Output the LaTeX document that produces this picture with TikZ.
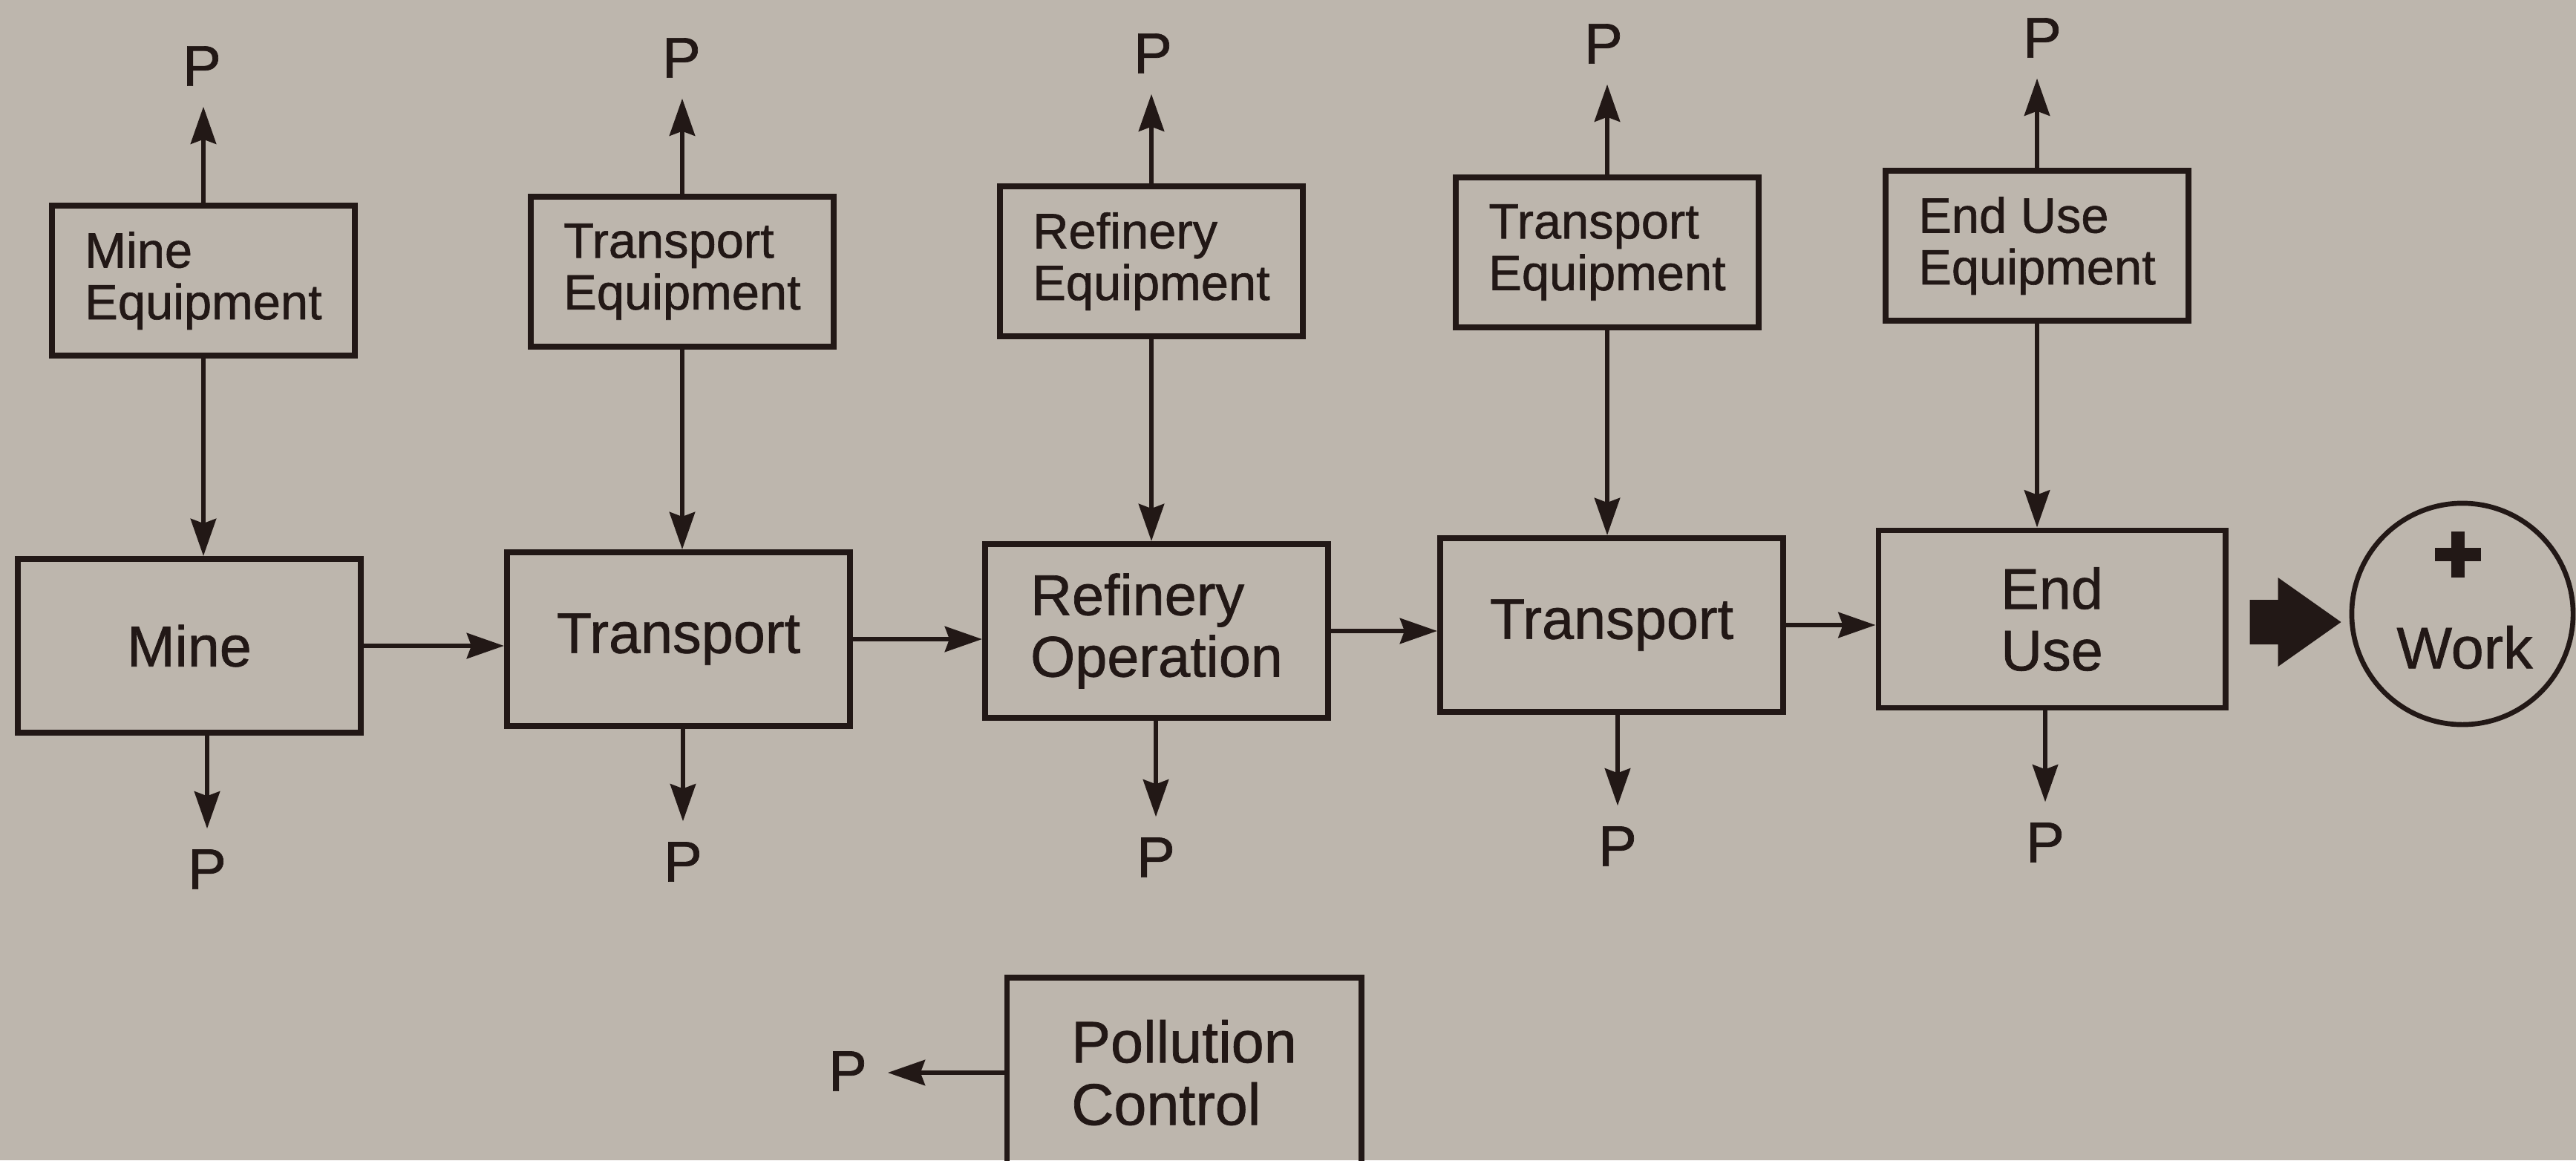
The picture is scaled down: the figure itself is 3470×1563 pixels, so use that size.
\documentclass[tikz,border=0pt]{standalone}
\usepackage{fontspec}
\setmainfont{Liberation Sans}[FakeBold=0.9]
\usetikzlibrary{arrows.meta,calc}
\definecolor{paper}{RGB}{189,182,173}
\definecolor{ink}{RGB}{34,24,22}
\begin{document}
\begin{tikzpicture}[x=0.01cm,y=-0.01cm,
  every node/.style={text=ink},
  box/.style={draw=ink,line width=2.2pt,inner sep=0pt,align=left},
  eqbox/.style={box,minimum width=4.08cm,minimum height=2.02cm,font=\fontsize{19}{19.8}\selectfont},
  stagebox/.style={box,minimum width=4.62cm,minimum height=2.34cm,font=\fontsize{22}{23.6}\selectfont},
  plabel/.style={inner sep=0pt,outer sep=0.28cm,font=\fontsize{22}{22}\selectfont},
  flow/.style={draw=ink,line width=1.9pt,-{Stealth[length=0.50cm,width=0.34cm,inset=0.06cm]}},
]
% page
\fill[paper] (0,0) rectangle (3470,1563);
\useasboundingbox (0,0) rectangle (3470,1563);
\clip (0,0) rectangle (3470,1563);

% equipment row
\node[eqbox] (meq)  at (274,378)  {Mine\\Equipment};
\node[eqbox] (teqa) at (919,366)  {Transport\\Equipment};
\node[eqbox] (req)  at (1551,352) {Refinery\\Equipment};
\node[eqbox] (teqb) at (2165,340) {Transport\\Equipment};
\node[eqbox] (ueq)  at (2744,331) {End Use\\Equipment};

% process chain
\node[stagebox] (mine) at (255,870)  {Mine};
\node[stagebox] (tra)  at (914,861)  {Transport};
\node[stagebox] (ref)  at (1558,850) {Refinery\\Operation};
\node[stagebox] (trb)  at (2171,842) {Transport};
\node[stagebox,minimum width=4.67cm,minimum height=2.39cm] (use) at (2764,834) {End\\Use};

% useful output
\node[draw=ink,line width=1.9pt,circle,minimum size=2.98cm,inner sep=0pt] (work) at (3317,827) {};
\node[inner sep=0pt,font=\fontsize{22.5}{22.5}\selectfont] (worktxt) at ($(work.center)+(3,45)$) {Work};
\draw[ink,line width=0.18cm] ($(work.center)+(-37,-80)$) -- ($(work.center)+(25,-80)$);
\draw[ink,line width=0.18cm] ($(work.center)+(-6,-111)$) -- ($(work.center)+(-6,-49)$);

% pollution control
\node[box,minimum width=4.77cm,minimum height=2.56cm,font=\fontsize{22.5}{23.9}\selectfont] (pol) at (1595,1445) {Pollution\\Control};

% P outputs
\node[plabel] (pa) at (272,89)   {P};
\node[plabel] (pb) at (918,78)   {P};
\node[plabel] (pc) at (1553,72)  {P};
\node[plabel] (pd) at (2160,59)  {P};
\node[plabel] (pe) at (2751,51)  {P};
\node[plabel] (qa) at (279,1171) {P};
\node[plabel] (qb) at (920,1161) {P};
\node[plabel] (qc) at (1557,1155) {P};
\node[plabel] (qd) at (2179,1140) {P};
\node[plabel] (qe) at (2755,1135) {P};
\node[plabel] (pp) at (1142,1443) {P};

% equipment emissions
\draw[flow] (meq.north)  -- (meq.north  |- pa.south);
\draw[flow] (teqa.north) -- (teqa.north |- pb.south);
\draw[flow] (req.north)  -- (req.north  |- pc.south);
\draw[flow] (teqb.north) -- (teqb.north |- pd.south);
\draw[flow] (ueq.north)  -- (ueq.north  |- pe.south);

% equipment feeding each stage
\draw[flow] (meq.south)  -- (meq.south  |- mine.north);
\draw[flow] (teqa.south) -- (teqa.south |- tra.north);
\draw[flow] (req.south)  -- (req.south  |- ref.north);
\draw[flow] (teqb.south) -- (teqb.south |- trb.north);
\draw[flow] (ueq.south)  -- (ueq.south  |- use.north);

% stage emissions
\draw[flow] (qa.north |- mine.south) -- (qa.north);
\draw[flow] (qb.north |- tra.south)  -- (qb.north);
\draw[flow] (qc.north |- ref.south)  -- (qc.north);
\draw[flow] (qd.north |- trb.south)  -- (qd.north);
\draw[flow] (qe.north |- use.south)  -- (qe.north);

% energy flow along the chain
\draw[flow] (mine.east) -- (mine.east -| tra.west);
\draw[flow] (tra.east)  -- (tra.east  -| ref.west);
\draw[flow] (ref.east)  -- (ref.east  -| trb.west);
\draw[flow] (trb.east)  -- (trb.east  -| use.west);

% pollution control emission
\draw[flow] (pol.west) -- (pol.west -| pp.east);

% broad arrow into work
\coordinate (wa) at ($(use.east)+(29,4)$);
\fill[ink] ($(wa)+(0,-30)$) -- ($(wa)+(38,-30)$) -- ($(wa)+(38,-60)$) -- ($(wa)+(123,0)$)
  -- ($(wa)+(38,60)$) -- ($(wa)+(38,30)$) -- ($(wa)+(0,30)$) -- cycle;
\end{tikzpicture}
\end{document}
